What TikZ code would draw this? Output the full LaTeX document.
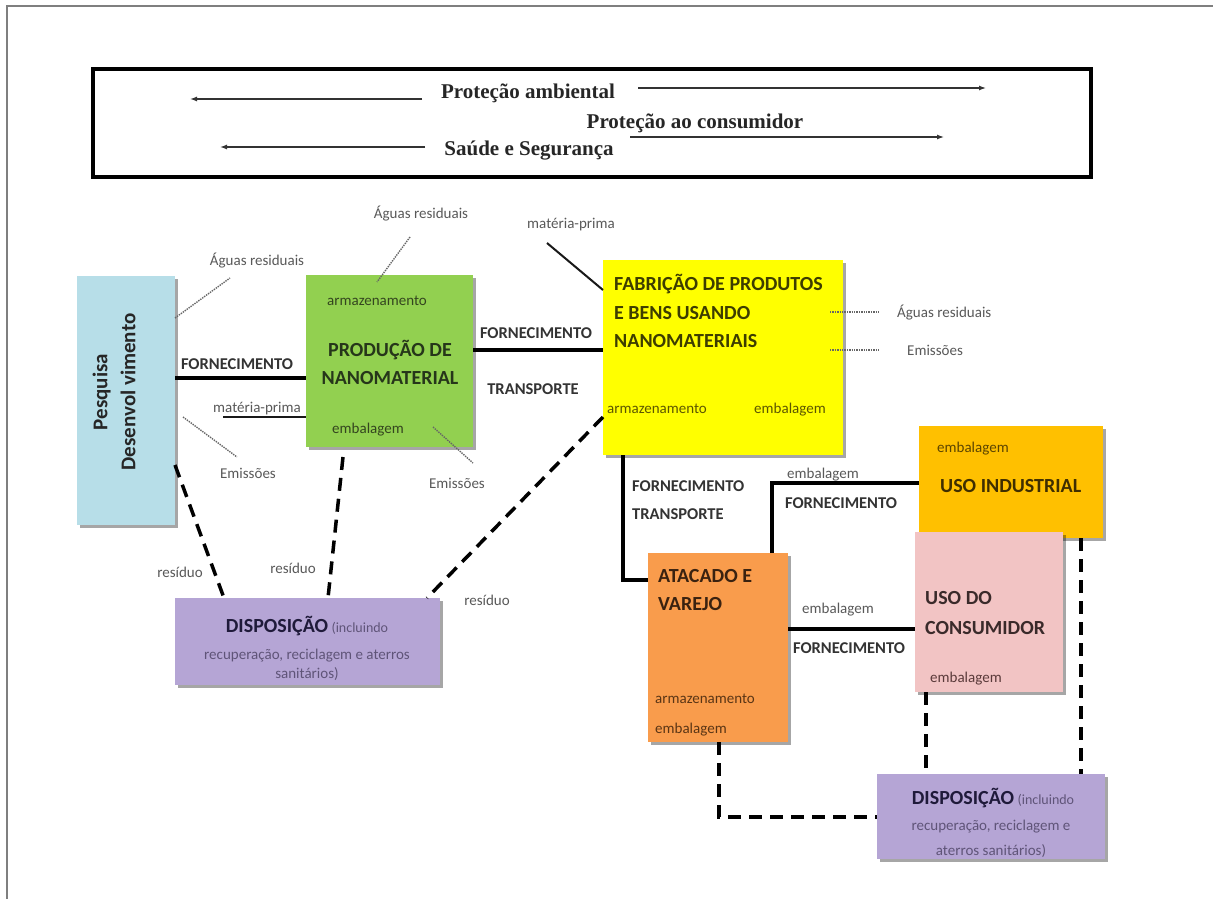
\documentclass[tikz,border=0pt]{standalone}
\usepackage{fontspec}
\setmainfont{Carlito}
\newfontfamily\bannerfont{Liberation Serif}
\usetikzlibrary{shadows,arrows.meta}
\definecolor{cBlue}{HTML}{B7DEE8}
\definecolor{cGreen}{HTML}{92D050}
\definecolor{cYellow}{HTML}{FFFF00}
\definecolor{cGold}{HTML}{FFC000}
\definecolor{cPink}{HTML}{F2C4C4}
\definecolor{cOrange}{HTML}{F99C4C}
\definecolor{cPurple}{HTML}{B5A5D5}
\definecolor{lblgray}{HTML}{595959}
\definecolor{capgray}{HTML}{333333}
\definecolor{frame}{HTML}{7F7F7F}
\definecolor{tGreen}{HTML}{26361A}
\definecolor{sGreen}{HTML}{34451F}
\definecolor{tYellow}{HTML}{3D3D00}
\definecolor{sYellow}{HTML}{5C5600}
\definecolor{tGold}{HTML}{3F2E00}
\definecolor{sGold}{HTML}{5C4500}
\definecolor{tOrange}{HTML}{3A2210}
\definecolor{sOrange}{HTML}{5A3515}
\definecolor{tPink}{HTML}{3A2A2A}
\definecolor{sPink}{HTML}{5A3A3A}
\definecolor{tPurple}{HTML}{1F1A3A}
\definecolor{sPurple}{HTML}{5F5478}
\begin{document}
\begin{tikzpicture}[x=1pt,y=-1pt,
  box/.style={inner sep=0pt, outer sep=0pt, draw=none,
    drop shadow={shadow xshift=2.5pt, shadow yshift=-2.5pt, opacity=0.35, fill=black}},
  sml/.style={inner sep=0pt, font=\fontsize{15}{18}\selectfont, text=lblgray},
  inb/.style={inner sep=0pt, font=\fontsize{15}{18}\selectfont},
  capl/.style={inner sep=0pt, font=\fontsize{16.5}{20}\selectfont\bfseries, text=capgray},
  ttl/.style={inner sep=0pt, font=\fontsize{20}{24}\selectfont\bfseries},
  bnr/.style={inner sep=0pt, font=\bannerfont\bfseries\fontsize{21}{25}\selectfont, text=black!85},
  arr/.style={-{Latex[length=7pt,width=5pt]}, line width=1.3pt, draw=black!80},
  conn/.style={line width=4pt, draw=black},
  thinl/.style={line width=2pt, draw=black!90},
  dotl/.style={densely dotted, line width=1.4pt, draw=black!60},
  dashl/.style={line width=3.5pt, draw=black, dash pattern=on 13pt off 8pt}
]
\useasboundingbox (0,0) rectangle (1213,899);
\fill[white] (0,0) rectangle (1213,899);
% outer frame (top and left edges)
\draw[frame, line width=2pt] (7,899) -- (7,6) -- (1213,6);

% banner
\node[draw=black, line width=3.5pt, inner sep=0pt, minimum width=998pt, minimum height=108pt] (banner) at (592,123) {};
\node[bnr, anchor=base] (pa) at (528,99) {Proteção ambiental};
\node[bnr, anchor=base] (pc) at (695,128) {Proteção ao consumidor};
\node[bnr, anchor=base] (ss) at (529,155) {Saúde e Segurança};
\coordinate (pa1) at (422,99);  \coordinate (pa2) at (190,99);
\coordinate (pa3) at (638,88);  \coordinate (pa4) at (986,88);
\coordinate (pc1) at (630,137); \coordinate (pc2) at (944,137);
\coordinate (ss1) at (425,147); \coordinate (ss2) at (220,147);
\draw[arr] (pa1) -- (pa2);
\draw[arr] (pa3) -- (pa4);
\draw[arr] (pc1) -- (pc2);
\draw[arr] (ss1) -- (ss2);

% boxes
\node[box, fill=cBlue,   minimum width=98pt,  minimum height=249pt] (pes) at (126,400.5) {};
\node[box, fill=cGreen,  minimum width=167pt, minimum height=172pt] (grn) at (389.5,361) {};
\node[box, fill=cYellow, minimum width=240pt, minimum height=195pt] (yel) at (723,357.5) {};
\node[box, fill=cGold,   minimum width=184pt, minimum height=112pt] (ind) at (1011,482) {};
\node[box, fill=cPink,   minimum width=148pt, minimum height=160pt] (pnk) at (989,612) {};
\node[box, fill=cOrange, minimum width=140pt, minimum height=189pt] (ata) at (718,647.5) {};
\node[box, fill=cPurple, minimum width=265pt, minimum height=87pt]  (disL) at (307.5,641.5) {};
\node[box, fill=cPurple, minimum width=228pt, minimum height=85pt]  (disR) at (991,816.5) {};

% solid connectors
\draw[conn] (pes.east |- 0,378) -- (grn.west |- 0,378);
\draw[conn] (grn.east |- 0,350) -- (yel.west |- 0,350);
\draw[conn] (yel.south -| 623,0) |- (ata.west |- 0,580);
\draw[conn, line width=3.5pt] (ata.north -| 772,0) |- (ind.west |- 0,483);
\draw[conn, line width=3.5pt] (ata.east |- 0,629) -- (pnk.west |- 0,629);
\coordinate (mp2) at (223,417);
\draw[thinl] (mp2) -- (grn.west |- mp2);
\coordinate (mp1) at (547,243);
\draw[thinl] (mp1) -- (yel.west |- 0,290);

% dashed (waste) connectors
\draw[dashl] (pes.east |- 0,465) -- (disL.north -| 224,0);
\draw[dashl] ([yshift=-10pt]grn.south -| 343,0) -- (disL.north -| 328,0);
\draw[dashl] (yel.west |- 0,417) -- (disL.north -| 427,0);
\draw[dashl] (pnk.south -| 926,0) -- (disR.north -| 926,0);
\draw[dashl] (ind.south -| 1081,0) -- (disR.north -| 1081,0);
\draw[dashl] (ata.south -| 719,0) |- (disR.west |- 0,817);

% dotted connectors
\coordinate (d1) at (230,278);
\coordinate (d2) at (410,237);
\coordinate (d3) at (183,417);
\coordinate (d4) at (237,457);
\coordinate (d5) at (433,427);
\coordinate (d6) at (473,463);
\coordinate (d7) at (830,312); \coordinate (d8) at (880,312);
\coordinate (d9) at (830,350); \coordinate (d10) at (880,350);
\draw[dotl] (pes.east |- 0,318) -- (d1);
\draw[dotl] (d2) -- ([yshift=-7pt]grn.north -| 377,0);
\draw[dotl] (d3) -- (d4);
\draw[dotl] (d5) -- (d6);
\draw[dotl] (d7) -- (d8);
\draw[dotl] (d9) -- (d10);

% outside labels
\node[sml, anchor=base] (aw1) at (257,265) {Águas residuais};
\node[sml, anchor=base] (aw2) at (421,218) {Águas residuais};
\node[sml, anchor=base] (mpl1) at (571,228) {matéria-prima};
\node[sml, anchor=base west] (aw3) at (897,317) {Águas residuais};
\node[sml, anchor=base west] (em3) at (907,355) {Emissões};
\node[sml, anchor=base] (em1) at (248,478) {Emissões};
\node[sml, anchor=base] (em2) at (457,488) {Emissões};
\node[sml, anchor=base] (mpl2) at (257,412) {matéria-prima};
\node[sml, anchor=base] (rs1) at (180,577) {resíduo};
\node[sml, anchor=base] (rs2) at (293,573) {resíduo};
\node[sml, anchor=base] (rs3) at (487,605) {resíduo};
\node[sml, anchor=base] (eb1) at (823,478) {embalagem};
\node[sml, anchor=base] (eb2) at (838,613) {embalagem};

% connector captions
\node[capl, anchor=base] (f1) at (237,369) {FORNECIMENTO};
\node[capl, anchor=base] (f2) at (536,338) {FORNECIMENTO};
\node[capl, anchor=base] (t2) at (533,394) {TRANSPORTE};
\node[capl, anchor=base west] (f3) at (632,491) {FORNECIMENTO};
\node[capl, anchor=base west] (t3) at (632,519) {TRANSPORTE};
\node[capl, anchor=base] (f4) at (841,508) {FORNECIMENTO};
\node[capl, anchor=base] (f5) at (849,653) {FORNECIMENTO};

% box texts
\node[ttl, rotate=90, align=center, text=black!85, font=\fontsize{21}{28}\selectfont\bfseries] (pest) at (114,392) {Pesquisa\\Desenvol vimento};

\node[inb, text=sGreen, anchor=base] (ga) at (377,305) {armazenamento};
\node[ttl, text=tGreen, anchor=base] (gt1) at (390,356) {PRODUÇÃO DE};
\node[ttl, text=tGreen, anchor=base] (gt2) at (390,384) {NANOMATERIAL};
\node[inb, text=sGreen, anchor=base] (ge) at (368,433) {embalagem};

\node[ttl, text=tYellow, anchor=base west] (yt1) at (614,290) {FABRIÇÃO DE PRODUTOS};
\node[ttl, text=tYellow, anchor=base west] (yt2) at (614,319) {E BENS USANDO};
\node[ttl, text=tYellow, anchor=base west] (yt3) at (614,347) {NANOMATERIAIS};
\node[inb, text=sYellow, anchor=base west] (ya) at (607,413) {armazenamento};
\node[inb, text=sYellow, anchor=base] (ye) at (790,413) {embalagem};

\node[inb, text=sGold, anchor=base west] (ie) at (937,452) {embalagem};
\node[ttl, text=tGold, anchor=base west] (it) at (940,492) {USO INDUSTRIAL};

\node[ttl, text=tPink, anchor=base west] (pt1) at (925,604) {USO DO};
\node[ttl, text=tPink, anchor=base west] (pt2) at (925,634) {CONSUMIDOR};
\node[inb, text=sPink, anchor=base west] (pe) at (930,682) {embalagem};

\node[ttl, text=tOrange, anchor=base west] (at1) at (658,582) {ATACADO E};
\node[ttl, text=tOrange, anchor=base west] (at2) at (658,610) {VAREJO};
\node[inb, text=sOrange, anchor=base west] (aa) at (655,703) {armazenamento};
\node[inb, text=sOrange, anchor=base west] (ae) at (655,733) {embalagem};

\node[inb, text=sPurple, anchor=base] (dl1) at (307,632) {{\fontsize{20}{24}\selectfont\bfseries\color{tPurple}DISPOSIÇÃO} {\fontsize{14}{17}\selectfont(incluindo}};
\node[inb, text=sPurple, anchor=base] (dl2) at (307,659) {recuperação, reciclagem e aterros};
\node[inb, text=sPurple, anchor=base] (dl3) at (307,678) {sanitários)};

\node[inb, text=sPurple, anchor=base] (dr1) at (993,804) {{\fontsize{20}{24}\selectfont\bfseries\color{tPurple}DISPOSIÇÃO} {\fontsize{14}{17}\selectfont(incluindo}};
\node[inb, text=sPurple, anchor=base] (dr2) at (991,830) {recuperação, reciclagem e};
\node[inb, text=sPurple, anchor=base] (dr3) at (991,855) {aterros sanitários)};
\end{tikzpicture}
\end{document}
